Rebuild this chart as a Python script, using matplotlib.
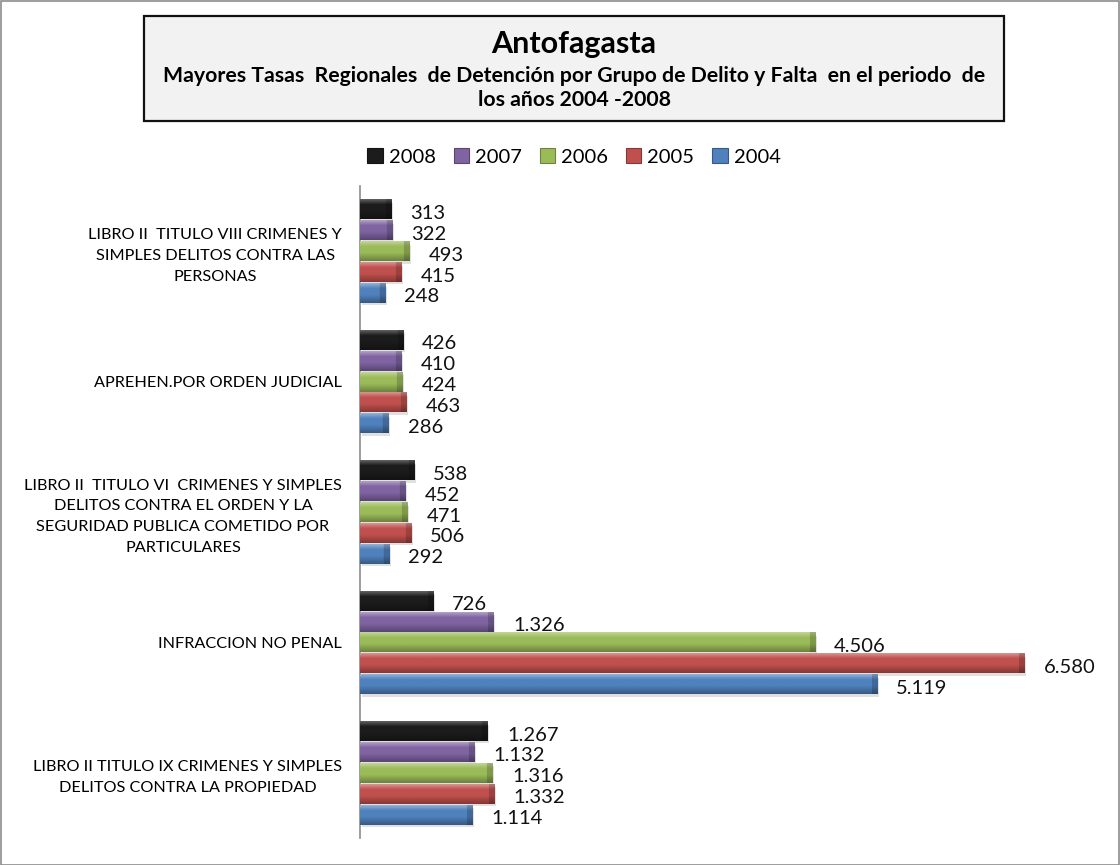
import numpy as np
import matplotlib.pyplot as plt
from matplotlib.patches import Rectangle, Patch
from matplotlib.colors import to_rgb

plt.rcParams['font.family'] = ['Lato', 'DejaVu Sans']

# data
categories = [
    "LIBRO II  TITULO VIII CRIMENES Y\nSIMPLES DELITOS CONTRA LAS\nPERSONAS",
    "APREHEN.POR ORDEN JUDICIAL",
    "LIBRO II  TITULO VI  CRIMENES Y SIMPLES\nDELITOS CONTRA EL ORDEN Y LA\nSEGURIDAD PUBLICA COMETIDO POR\nPARTICULARES",
    "INFRACCION NO PENAL",
    "LIBRO II TITULO IX CRIMENES Y SIMPLES\nDELITOS CONTRA LA PROPIEDAD",
]
years = ["2008", "2007", "2006", "2005", "2004"]
v2008 = [313, 426, 538, 726, 1267]
v2007 = [322, 410, 452, 1326, 1132]
v2006 = [493, 424, 471, 4506, 1316]
v2005 = [415, 463, 506, 6580, 1332]
v2004 = [248, 286, 292, 5119, 1114]
series = [v2008, v2007, v2006, v2005, v2004]
colors = ["#1c1c1c", "#8064A2", "#9BBB59", "#C0504D", "#4F81BD"]

W, H = 1120, 865
fig = plt.figure(figsize=(W / 100, H / 100), dpi=100)

# outer chart border
fig.patches.append(Rectangle((0.5 / W, 0.5 / H), 1 - 1.5 / W, 1 - 1.5 / H,
                             transform=fig.transFigure, fill=False,
                             edgecolor="#8c8c8c", lw=1.2))

# title box
bx0, bx1, by0, by1 = 144, 1004, 16, 121
fig.patches.append(Rectangle((bx0 / W, 1 - by1 / H), (bx1 - bx0) / W, (by1 - by0) / H,
                             transform=fig.transFigure, facecolor="#f2f2f2",
                             edgecolor="#111111", lw=1.6))
cx = (bx0 + bx1) / 2 / W
fig.text(cx, 1 - 44 / H, "Antofagasta", ha="center", va="center",
         fontsize=22, fontweight="bold")
fig.text(cx, 1 - 76 / H,
         "Mayores Tasas  Regionales  de Detención por Grupo de Delito y Falta  en el periodo  de",
         ha="center", va="center", fontsize=15.3, fontweight="bold")
fig.text(cx, 1 - 100 / H, "los años 2004 -2008", ha="center", va="center",
         fontsize=15.3, fontweight="bold")

ax_l, ax_r, ax_t, ax_b = 360, 1067, 186, 838
ax = fig.add_axes([ax_l / W, 1 - ax_b / H, (ax_r - ax_l) / W, (ax_b - ax_t) / H])
xmax = 7000
ax.set_xlim(0, xmax)
ax.set_ylim(4.5, -0.5)

n = len(series)
bh = 0.16
ypos = np.arange(len(categories))


def shade(c, f):
    c = np.array(to_rgb(c))
    if f >= 0:
        return c + (1 - c) * f
    return c * (1 + f)


px_per_x = (ax_r - ax_l) / xmax
px_per_y = (ax_b - ax_t) / 5.0

for i, (vals, col) in enumerate(zip(series, colors)):
    y = ypos - 0.5 * n * bh + (i + 0.5) * bh
    # soft shadow
    ax.barh(y + 3 / px_per_y, vals, height=bh * 0.9, left=15,
            color="#000000", alpha=0.12, lw=0, zorder=1)
    bars = ax.barh(y, vals, height=bh * 0.96, color=col, lw=0, zorder=2)
    top = shade(col, 0.45 if i else 0.35)
    mid = shade(col, 0.0)
    bot = shade(col, -0.3)
    for rect, v in zip(bars, vals):
        x0, y0 = rect.get_x(), rect.get_y()
        w, h = rect.get_width(), rect.get_height()
        ncol = max(int(w * px_per_x), 2)
        nrow = 30
        t = np.linspace(0, 1, nrow)[:, None]
        prof = np.where(t < 0.3, 1 - t / 0.3, 0)[:, :, None] * (top - mid) + mid
        prof = np.where(t[:, :, None] > 0.6, mid + (bot - mid) * ((t[:, :, None] - 0.6) / 0.4), prof)
        img = np.repeat(prof, ncol, axis=1)
        # darker bevel at the bar end
        end = np.arange(ncol)[None, :, None] >= ncol - 6
        img = np.where(end, img * 0.82, img)
        im = ax.imshow(img, extent=(x0, x0 + w, y0 + h, y0), aspect="auto",
                       origin="upper", zorder=3, interpolation="bilinear")
        im.set_clip_path(rect)
        lab = f"{v:,}".replace(",", ".")
        ax.annotate(lab, (x0 + w, y0 + h / 2), xytext=(19, -4),
                    textcoords="offset pixels", ha="left", va="center",
                    fontsize=14.5, color="#111111", zorder=4, annotation_clip=False)

ax.set_xlim(0, xmax)
ax.set_ylim(4.5, -0.5)
ax.set_yticks(ypos)
ax.set_yticklabels(categories, fontsize=11.7)
for tl in ax.get_yticklabels():
    tl.set_multialignment("center")
    tl.set_linespacing(1.6)
ax.tick_params(axis="y", length=0, pad=13)
ax.set_xticks([])
for s in ["top", "right", "bottom"]:
    ax.spines[s].set_visible(False)
ax.spines["left"].set_color("#8c8c8c")
ax.spines["left"].set_linewidth(1.2)
ax.patch.set_visible(False)

handles = [Patch(facecolor=c, edgecolor=shade(c, -0.3), lw=0.8) for c in colors]
fig.legend(handles, years, loc="center", bbox_to_anchor=(cx, 1 - 157 / H),
           ncol=5, frameon=False, fontsize=14.5, handlelength=0.75,
           handleheight=0.75, handletextpad=0.3, columnspacing=0.9)

fig.savefig("out.png", dpi=100)
